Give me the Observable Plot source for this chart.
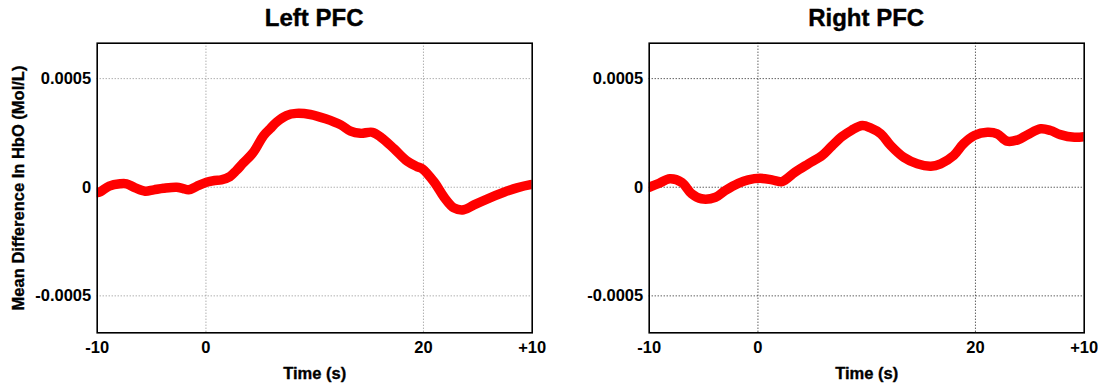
<!DOCTYPE html>
<html>
<head>
<meta charset="utf-8">
<script src="https://cdn.jsdelivr.net/npm/d3@7"></script>
<script src="https://cdn.jsdelivr.net/npm/@observablehq/plot@0.6"></script>
<style>
  html, body { margin: 0; padding: 0; background: #fff; }
  #wrap { position: relative; width: 1098px; height: 390px; overflow: hidden; font-family: "Liberation Sans", Arial, Helvetica, sans-serif; }
  .panel { position: absolute; top: 0; width: 549px; height: 390px; }
  .panel svg { position: absolute; left: 0; top: 0; }
  .title { position: absolute; top: 6px; font-size: 24px; line-height: 24px; font-weight: bold; text-align: center; color: #000; z-index: 2; -webkit-text-stroke: 0.4px #000; }
</style>
</head>
<body>
<div id="wrap"></div>
<script>
// ---- data ----
const titles = ["Left PFC", "Right PFC"];
const yLabel = "Mean Difference In HbO (Mol/L)";
const xLabel = "Time (s)";
const xTicks = [-10, 0, 20, 30];
const xTickLabels = ["-10", "0", "20", "+10"];
const yTicks = [-0.0005, 0, 0.0005];
const yTickLabels = ["-0.0005", "0", "0.0005"];

const leftTime = [-10, -9.7, -8.9, -7.9, -7.3, -6.5, -5.6, -4.8, -3.9, -2.7, -2.1, -1.6, -0.9, 0.05, 0.8, 1.4, 2.2, 2.8, 3.4, 4.35, 5.3, 5.9, 6.5, 7.4, 8.3, 9.6, 11.0, 12.4, 13.3, 14.2, 15.3, 16.1, 17.3, 18.5, 19.4, 19.9, 21.0, 21.9, 22.8, 23.7, 24.65, 25.9, 27.4, 28.6, 29.85, 30];
const leftValue = [-0.000025, -0.00002, 0.000005, 0.000016, 0.000016, -0.000003, -0.000018, -0.000012, -0.000005, 0.0, -0.000006, -0.000012, 0.000003, 0.000023, 0.000031, 0.000034, 0.000049, 0.000077, 0.00011, 0.00016, 0.000238, 0.000269, 0.0003, 0.00033, 0.00034, 0.000335, 0.000315, 0.000287, 0.000258, 0.000248, 0.000253, 0.00023, 0.000177, 0.00012, 0.000095, 0.000085, 0.000023, -0.000046, -0.000095, -0.000104, -0.000081, -0.000053, -0.000023, -0.000003, 0.000012, 0.000013];

const rightTime = [-10, -9.1, -8.1, -7.0, -6.1, -5.2, -3.9, -3.0, -1.8, -0.9, 0.2, 1.3, 2.2, 3.4, 4.65, 5.9, 6.8, 7.7, 8.6, 9.6, 10.35, 11.3, 12.2, 13.4, 14.65, 15.9, 16.8, 18.0, 18.9, 19.9, 21.1, 22.0, 22.9, 23.9, 24.8, 26.0, 26.9, 27.8, 29.1, 30];
const rightValue = [0.0, 0.000018, 0.000039, 0.000022, -0.00003, -0.000053, -0.000046, -0.000015, 0.000018, 0.000034, 0.000041, 0.000034, 0.000026, 0.000069, 0.000108, 0.000146, 0.000190, 0.000232, 0.000262, 0.000284, 0.000273, 0.000246, 0.000192, 0.000138, 0.000108, 0.000097, 0.000108, 0.000146, 0.0002, 0.000238, 0.000253, 0.000246, 0.000212, 0.000218, 0.000242, 0.000269, 0.000261, 0.000242, 0.00023, 0.000233];

// ---- drawing ----
const W = 549, H = 390, MT = 42.7, MB = 57.7;
const panels = [
  {title: titles[0], t: leftTime, v: leftValue, left: 0, ml: 96.7, mr: 17.3, grid: "#8c8c8c", ylab: true},
  {title: titles[1], t: rightTime, v: rightValue, left: 549, ml: 99.7, mr: 14.3, grid: "#1a1a1a", ylab: false}
];
const wrap = document.getElementById("wrap");
const xfmt = d => xTickLabels[xTicks.indexOf(d)];
const yfmt = d => yTickLabels[yTicks.indexOf(d)];
const heavy = {stroke: "#000", strokeWidth: 0.35};

for (const p of panels) {
  const data = p.t.map((t, i) => ({t, v: p.v[i]}));
  const div = document.createElement("div");
  div.className = "panel";
  div.style.left = p.left + "px";
  const ttl = document.createElement("div");
  ttl.className = "title";
  ttl.style.left = p.ml + "px";
  ttl.style.width = (W - p.ml - p.mr) + "px";
  ttl.textContent = p.title;
  div.appendChild(ttl);

  const marks = [
    Plot.gridX(xTicks.filter(d => d > -10 && d < 30), {stroke: p.grid, strokeOpacity: 1, strokeDasharray: "1,2", strokeWidth: 1}),
    Plot.gridY(yTicks, {stroke: p.grid, strokeOpacity: 1, strokeDasharray: "1,2", strokeWidth: 1}),
    Plot.axisX(xTicks, {tickSize: 0, tickPadding: 8, tickFormat: xfmt, label: null, fontSize: 16.5, fontWeight: "bold", ...heavy}),
    Plot.axisY(yTicks, {tickSize: 0, tickPadding: 6, tickFormat: yfmt, label: null, fontSize: 16.5, fontWeight: "bold", ...heavy}),
    Plot.line(data, {x: "t", y: "v", stroke: "#ff0000", strokeWidth: 9.5, curve: "catmull-rom", strokeLinecap: "round", strokeLinejoin: "round", clip: true}),
    Plot.frame({stroke: "#000", strokeWidth: 1.6}),
    Plot.text([xLabel], {text: d => d, frameAnchor: "bottom", dy: 41, lineAnchor: "middle", fontSize: 16.5, fontWeight: "bold", fill: "#000", ...heavy})
  ];
  if (p.ylab) {
    marks.push(Plot.text([yLabel], {text: d => d, frameAnchor: "left", dx: -78, rotate: -90, textAnchor: "middle", lineAnchor: "middle", fontSize: 16.5, fontWeight: "bold", fill: "#000", ...heavy}));
  }
  const svg = Plot.plot({
    width: W, height: H,
    marginLeft: p.ml, marginRight: p.mr, marginTop: MT, marginBottom: MB,
    x: {domain: [-10, 30]},
    y: {domain: [-0.00067, 0.000663]},
    style: {fontFamily: "'Liberation Sans', Arial, Helvetica, sans-serif", fontWeight: "bold", fontSize: "16.5px", color: "#000", background: "#fff", overflow: "visible"},
    marks
  });
  div.appendChild(svg);
  wrap.appendChild(div);
}
</script>
</body>
</html>
